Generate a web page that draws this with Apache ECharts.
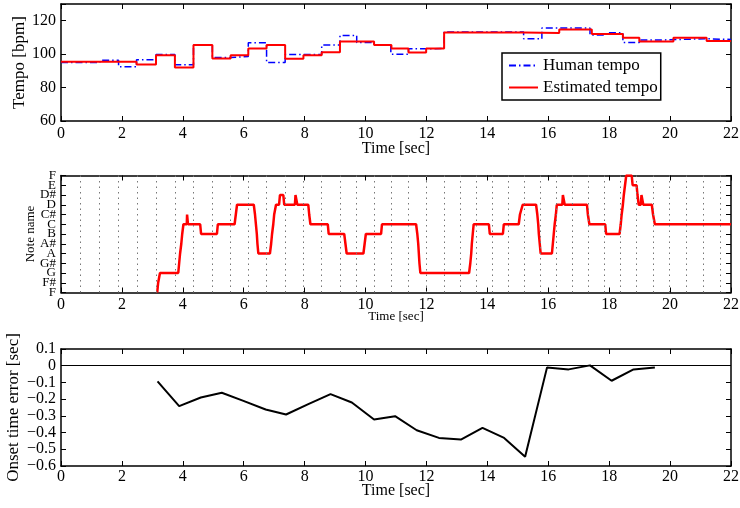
<!DOCTYPE html>
<html>
<head>
<meta charset="utf-8">
<script src="https://cdn.jsdelivr.net/npm/echarts@6/dist/echarts.min.js"></script>
<style>html,body{margin:0;padding:0;background:#fff}#c{width:740px;height:508px}</style>
</head>
<body>
<div id="c"></div>
<script>
// ---------- Data ----------
const timeTicks = [0, 2, 4, 6, 8, 10, 12, 14, 16, 18, 20, 22];
const tempoTicks = [60, 80, 100, 120];
const noteNames = ['F', 'F#', 'G', 'G#', 'A', 'A#', 'B', 'C', 'C#', 'D', 'D#', 'E', 'F'];
const errorTicks = [-0.6, -0.5, -0.4, -0.3, -0.2, -0.1, 0, 0.1];

// Human tempo (step start times and values)
const humanT = [0, 1.28, 1.89, 2.48, 3.12, 3.74, 4.35, 4.97, 5.57, 6.15, 6.75, 7.36, 8.56, 9.16, 9.71, 10.28, 10.83, 11.41, 11.99, 12.58, 15.19, 15.79, 17.37, 17.92, 18.45, 18.99, 19.56, 21.2, 22];
const humanV = [95.0, 96.4, 92.4, 96.6, 99.8, 93.6, 105.4, 98.0, 98.6, 106.8, 95.0, 99.8, 105.4, 111.2, 107.0, 105.4, 100.0, 103.2, 103.4, 113.2, 109.2, 115.6, 111.4, 112.8, 107.0, 108.4, 109.2, 108.8, 108.8];

// Estimated tempo
const estT = [0, 2.48, 3.12, 3.74, 4.35, 4.97, 5.57, 6.15, 6.75, 7.36, 7.96, 8.56, 9.16, 10.28, 10.85, 11.41, 11.99, 12.58, 15.19, 16.36, 17.43, 18.45, 18.99, 20.11, 21.2, 22];
const estV = [95.4, 93.8, 99.4, 92.0, 105.4, 97.4, 99.4, 103.4, 105.4, 97.2, 99.4, 101.2, 107.6, 105.4, 103.4, 101.0, 103.4, 113.0, 112.6, 114.8, 112.0, 109.8, 107.6, 109.8, 107.8, 107.8];

// Beat positions (dotted lines in the note panel)
const beatT = [0.63, 1.26, 1.88, 2.50, 3.12, 3.74, 4.35, 4.97, 5.57, 6.15, 6.75, 7.36, 7.96, 8.56, 9.16, 9.71, 10.27, 10.83, 11.41, 11.99, 12.58, 13.11, 13.64, 14.16, 14.68, 15.20, 15.73, 16.26, 16.78, 17.30, 17.83, 18.36, 18.90, 19.44, 19.98, 20.54, 21.10, 21.66];

// Pitch trajectory (semitones above F)
const noteT = [3.16, 3.19, 3.22, 3.25, 3.85, 3.88, 3.91, 3.95, 3.98, 4.02, 4.13, 4.14, 4.16, 4.17, 4.57, 4.60, 5.12, 5.15, 5.70, 5.74, 5.78, 6.33, 6.37, 6.40, 6.43, 6.45, 6.48, 6.86, 6.90, 6.93, 6.97, 7.00, 7.06, 7.16, 7.19, 7.30, 7.33, 7.68, 7.70, 7.74, 7.76, 8.12, 8.15, 8.19, 8.76, 8.79, 9.30, 9.34, 9.38, 9.93, 9.97, 10.01, 10.51, 10.54, 11.66, 11.70, 11.73, 11.75, 11.77, 11.80, 13.40, 13.44, 13.47, 13.49, 13.52, 13.55, 14.05, 14.08, 14.51, 14.54, 15.03, 15.07, 15.16, 15.60, 15.64, 15.67, 15.69, 15.72, 15.75, 16.12, 16.15, 16.18, 16.21, 16.25, 16.28, 16.46, 16.48, 16.52, 16.54, 17.27, 17.30, 17.35, 17.87, 17.90, 18.34, 18.38, 18.41, 18.45, 18.48, 18.52, 18.56, 18.74, 18.77, 18.90, 18.93, 18.97, 19.04, 19.06, 19.10, 19.12, 19.40, 19.44, 19.50, 22];
const noteV = [0, 1, 1, 2, 2, 3, 4, 5, 6, 7, 7, 8, 8, 7, 7, 6, 6, 7, 7, 8, 9, 9, 8, 7, 6, 5, 4, 4, 5, 6, 7, 8, 9, 9, 10, 10, 9, 9, 10, 10, 9, 9, 8, 7, 7, 6, 6, 5, 4, 4, 5, 6, 6, 7, 7, 6, 5, 4, 3, 2, 2, 3, 4, 5, 6, 7, 7, 6, 6, 7, 7, 8, 9, 9, 8, 7, 6, 5, 4, 4, 5, 6, 7, 8, 9, 9, 10, 10, 9, 9, 8, 7, 7, 6, 6, 7, 8, 9, 10, 11, 12, 12, 11, 11, 10, 9, 9, 10, 10, 9, 9, 8, 7, 7];

// Onset time error
const errT = [3.17, 3.88, 4.59, 5.28, 5.99, 6.72, 7.39, 8.12, 8.85, 9.55, 10.28, 10.97, 11.68, 12.41, 13.13, 13.84, 14.55, 15.24, 15.96, 16.67, 17.37, 18.08, 18.80, 19.50];
const errV = [-0.094, -0.242, -0.19, -0.162, -0.21, -0.262, -0.292, -0.23, -0.17, -0.22, -0.322, -0.302, -0.386, -0.432, -0.442, -0.372, -0.432, -0.544, -0.01, -0.022, 0.002, -0.09, -0.022, -0.01];

// ---------- Chart ----------
const FONT = 'Liberation Serif';
const zip = (a, b) => a.map((x, i) => [x, b[i]]);
const gridBase = {containLabel: false, outerBoundsMode: 'none', show: false};
const grids = [
  Object.assign({left: 61, top: 4, width: 670, height: 117}, gridBase),
  Object.assign({left: 61, top: 175.5, width: 670, height: 117}, gridBase),
  Object.assign({left: 61, top: 349, width: 670, height: 117}, gridBase)
];
const lineAx = {show: true, onZero: false, lineStyle: {color: '#000', width: 1.5}};
const tickIn = {show: true, inside: true, length: 5, lineStyle: {color: '#000', width: 1}};

function xPair(gi, labelMargin, nameGap, nameSize) {
  return [
    {type: 'value', gridIndex: gi, min: 0, max: 22, interval: 2, position: 'bottom',
     axisLine: lineAx, axisTick: tickIn, splitLine: {show: false},
     axisLabel: {show: true, margin: labelMargin, color: '#000', fontFamily: FONT, fontSize: 16,
       hideOverlap: false, showMinLabel: true, showMaxLabel: true},
     name: 'Time [sec]', nameLocation: 'middle', nameGap: nameGap, nameMoveOverlap: false,
     nameTextStyle: {color: '#000', fontFamily: FONT, fontSize: nameSize}},
    {type: 'value', gridIndex: gi, min: 0, max: 22, interval: 2, position: 'top',
     axisLine: lineAx, axisTick: tickIn, splitLine: {show: false}, axisLabel: {show: false}}
  ];
}
function yPair(gi, min, max, interval, fmt, labelSize, name, nameGap, nameSize) {
  return [
    {type: 'value', gridIndex: gi, min: min, max: max, interval: interval, position: 'left',
     axisLine: lineAx, axisTick: tickIn, splitLine: {show: false},
     axisLabel: {show: true, margin: 5, color: '#000', fontFamily: FONT, fontSize: labelSize,
       formatter: fmt, hideOverlap: false, showMinLabel: true, showMaxLabel: true},
     name: name, nameLocation: 'middle', nameGap: nameGap, nameMoveOverlap: false,
     nameTextStyle: {color: '#000', fontFamily: FONT, fontSize: nameSize}},
    {type: 'value', gridIndex: gi, min: min, max: max, interval: interval, position: 'right',
     axisLine: lineAx, axisTick: tickIn, splitLine: {show: false}, axisLabel: {show: false}}
  ];
}

const tempoFmt = v => tempoTicks.indexOf(v) >= 0 ? String(v) : '';
// note labels split over two stacked axes so none of them is dropped as overlapping
const noteFmtEven = v => { const i = Math.round(v); return i % 2 === 0 ? (noteNames[i] || '') : ''; };
const noteFmtOdd = v => { const i = Math.round(v); return i % 2 === 1 ? (noteNames[i] || '') : ''; };
const errFmt = v => {
  const r = Math.round(v * 10) / 10;
  if (errorTicks.indexOf(r) < 0) return '';
  return r < 0 ? '\u2212' + String(-r) : String(r);
};

const noteOddAxis = {type: 'value', gridIndex: 1, min: 0, max: 12, interval: 1, position: 'left',
  axisLine: {show: false, onZero: false}, axisTick: {show: false}, splitLine: {show: false},
  axisLabel: {show: true, margin: 5, color: '#000', fontFamily: FONT, fontSize: 13,
    formatter: noteFmtOdd, hideOverlap: false, showMinLabel: false, showMaxLabel: false}};

const option = {
  backgroundColor: '#fff',
  animation: false,
  grid: grids,
  xAxis: [].concat(xPair(0, 5, 20, 16), xPair(1, 4, 18, 13), xPair(2, 3, 17, 16)),
  yAxis: [].concat(
    yPair(0, 60, 130, 20, tempoFmt, 16, 'Tempo [bpm]', 33, 17),
    yPair(1, 0, 12, 1, noteFmtEven, 13, 'Note name', 24, 13),
    yPair(2, -0.6, 0.1, 0.1, errFmt, 16, 'Onset time error [sec]', 39, 17),
    [noteOddAxis]
  ),
  legend: {
    show: true, orient: 'vertical', left: 502, top: 53,
    data: ['Human tempo', 'Estimated tempo'],
    itemWidth: 29, itemHeight: 12, itemGap: 5,
    padding: [4, 3, 4, 6],
    itemStyle: {opacity: 0},
    backgroundColor: '#fff', borderColor: '#000', borderWidth: 1.5,
    textStyle: {color: '#000', fontFamily: FONT, fontSize: 17}
  },
  series: [
    {name: 'Human tempo', type: 'line', xAxisIndex: 0, yAxisIndex: 0, step: 'end',
     data: zip(humanT, humanV), symbol: 'none', showSymbol: false, z: 3,
     lineStyle: {color: '#0000ff', width: 1.5, type: [7, 3, 1.5, 3]}, itemStyle: {color: '#0000ff'}},
    {name: 'Estimated tempo', type: 'line', xAxisIndex: 0, yAxisIndex: 0, step: 'end',
     data: zip(estT, estV), symbol: 'none', showSymbol: false, z: 4,
     lineStyle: {color: '#ff0000', width: 2}, itemStyle: {color: '#ff0000'}},
    {name: 'beats', type: 'line', xAxisIndex: 2, yAxisIndex: 2, data: [], symbol: 'none', z: 1,
     markLine: {silent: true, symbol: ['none', 'none'], label: {show: false},
       lineStyle: {color: '#777', width: 1, type: [1.5, 4]},
       data: beatT.map(t => ({xAxis: t}))}},
    {name: 'note', type: 'line', xAxisIndex: 2, yAxisIndex: 2, data: zip(noteT, noteV),
     symbol: 'none', z: 3, lineStyle: {color: '#ff0000', width: 2.5}},
    {name: 'zero', type: 'line', xAxisIndex: 4, yAxisIndex: 4, data: [], symbol: 'none', z: 1,
     markLine: {silent: true, symbol: ['none', 'none'], label: {show: false},
       lineStyle: {color: '#000', width: 1, type: 'solid'},
       data: [{yAxis: 0}]}},
    {name: 'error', type: 'line', xAxisIndex: 4, yAxisIndex: 4, data: zip(errT, errV),
     symbol: 'none', z: 3, lineStyle: {color: '#000', width: 2}}
  ]
};
echarts.init(document.getElementById('c')).setOption(option);
</script>
</body>
</html>
